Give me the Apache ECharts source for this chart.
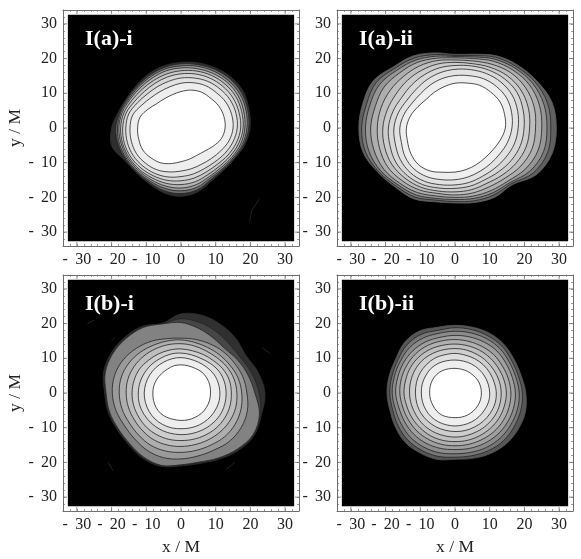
<!DOCTYPE html>
<html>
<head>
    <meta charset="utf-8">
    <title>ECharts</title>
    <script src="https://cdn.jsdelivr.net/npm/echarts@6/dist/echarts.min.js"></script>
    <style>body{margin:0;background:#fff}</style>
</head>
<body>
<div id="main" style="width:581px;height:559px;"></div>
<script>
    // contour radii in M, read every 15 deg from +x going anticlockwise; outermost ring first
    var angles = [0,15,30,45,60,75,90,105,120,135,150,165,180,195,210,225,240,255,270,285,300,315,330,345];
    var tickValues = [-30,-20,-10,0,10,20,30];

    var ringsAi = [
        [19.9,20.3,20.8,20.6,20,19.4,18.9,18.6,18.2,17.8,17.8,18.6,20,20.6,18.7,18.2,18.5,19.3,19.7,19,17.6,17.3,17.8,19],
        [19.5,19.9,20.2,20,19.5,18.9,18.5,18.1,17.7,17.4,17.6,18.2,18.8,18.7,18.3,18,18.1,18.7,18.9,18.4,17.2,17,17.6,18.7],
        [19,19.4,19.6,19.3,18.9,18.4,17.9,17.6,17.2,17,17.2,17.9,18.3,18.3,18,17.7,17.7,18,18.1,17.7,16.7,16.7,17.3,18.3],
        [18.4,18.7,18.9,18.7,18.2,17.7,17.3,17,16.6,16.5,16.8,17.5,17.9,17.8,17.6,17.3,17.2,17.3,17.3,16.9,16.2,16.2,16.9,17.8],
        [17.9,18.1,18.2,17.9,17.5,17,16.5,16.1,15.8,15.8,16.2,17,17.4,17.4,17.2,16.9,16.6,16.5,16.3,16,15.5,15.6,16.3,17.2],
        [17.2,17.3,17.3,17,16.6,16.1,15.6,15.2,14.9,14.9,15.4,16.4,16.8,16.9,16.7,16.3,15.9,15.6,15.2,14.9,14.6,14.8,15.6,16.5],
        [16.2,16.4,16.3,15.9,15.5,14.9,14.4,13.9,13.7,13.8,14.5,15.6,15.9,16,15.9,15.5,15.1,14.6,14,13.7,13.5,13.8,14.6,15.5],
        [15,15.1,14.9,14.4,14.1,13.5,12.9,12.3,12.1,12.3,13.1,14.4,14.7,14.8,14.8,14.4,13.9,13.1,12.4,12.1,12,12.4,13.2,14.3],
        [12.7,12.8,12.6,12.1,11.9,11.3,10.5,9.9,9.7,9.9,10.9,12.2,12.5,12.6,12.7,12.2,11.6,10.6,9.7,9.3,9.1,9.5,10.6,12]
    ];
    var shadesAi = ['#2e2e2e','#6e6e6e','#989898','#b4b4b4','#c8c8c8','#d6d6d6','#e2e2e2','#eeeeee','#ffffff'];

    var ringsAii = [
        [29.2,28.9,27.2,25.6,24,22,21.2,22.4,24,25,27.2,27.5,27.7,27.4,25.6,24.2,23.6,22,21.6,22.2,23,23.2,27,28.9],
        [27.6,27.6,26.6,25,23.5,21.6,20.9,21.9,23.3,24.4,26.2,26.4,26.9,26.7,25.3,23.8,23,21.5,21.2,21.7,22.3,22.8,26,27.6],
        [26.5,26.5,25.8,24.4,22.9,21.2,20.6,21.4,22.6,23.6,25.1,25.4,25.8,25.7,24.7,23.2,22.3,21,20.6,21,21.6,22.3,24.9,26.4],
        [25,25.2,24.8,23.6,22.2,20.7,20.2,20.8,21.8,22.5,23.6,23.8,24.3,24.2,23.7,22.5,21.5,20.3,20,20.3,20.8,21.6,23.5,24.8],
        [23.2,23.6,23.4,22.6,21.2,20,19.6,20.1,20.6,21,21.6,22.1,22.4,22.5,22.4,21.5,20.6,19.5,19.3,19.4,19.6,20.4,21.9,23],
        [21.5,21.9,21.9,21.3,20.2,19.2,18.9,19.1,19.2,19.4,19.6,20.2,20.8,21,21,20.4,19.7,18.8,18.4,18.4,18.4,19.2,20.3,21.2],
        [19.9,20.3,20.6,20.1,19.3,18.5,18,17.9,17.7,17.6,17.7,18.5,19.2,19.4,19.7,19.4,18.8,17.9,17.4,17.3,17.2,17.8,18.7,19.5],
        [18.2,18.7,19,18.7,18.1,17.4,16.9,16.5,16.1,15.8,16,16.9,17.6,17.8,18.2,18.2,17.7,16.9,16.4,16.2,16,16.3,16.9,17.7],
        [16.4,16.9,17.2,16.9,16.4,15.6,15.1,14.7,14.3,14,14.3,15.2,15.9,16,16.6,16.7,16.2,15.4,14.9,14.6,14.4,14.5,14.9,15.7],
        [14.5,14.8,15,14.6,14.2,13.4,12.9,12.3,11.9,11.7,12.3,13.3,14,14.2,14.7,14.9,14.3,13.2,12.7,12.4,12.2,12.2,12.6,13.5]
    ];
    var shadesAii = ['#606060','#7a7a7a','#969696','#aeaeae','#bebebe','#cccccc','#d8d8d8','#e2e2e2','#eeeeee','#ffffff'];

    var ringsBi = [
        [24.2,23,21.6,22.3,22.8,23.2,22.8,20.8,22.2,22.8,23.2,23.1,22,21.7,21.2,21.2,21.8,21.9,21,21,22,23.4,24.4,24],
        [22.5,21.2,20,19.8,20.4,21,21.4,20.7,22,22.5,22.9,22.8,21.8,21.5,21,21,21.6,21.7,20.8,20.8,21.8,23.1,24.2,23.7],
        [21.3,20,18.9,18,18.4,19.3,20.3,20.6,21.8,22.3,22.7,22.6,21.6,21.3,20.8,20.8,21.4,21.6,20.7,20.6,21.6,22.9,24,23.4],
        [19,18.4,17.6,17,16.4,16,15.8,16.2,17.2,18.2,19.2,19.8,19.8,19.4,18.8,18.8,19.2,19.3,19,18.8,19,19.7,20,19.8],
        [17.5,17,16.2,15.6,15.2,15.1,15.3,15.5,15.9,16.6,17.3,17.8,17.8,17.6,17.2,17.2,17.4,17.3,17.1,17.1,17.3,17.8,18,17.9],
        [16.1,15.8,15.2,14.5,14.1,14.1,14.2,14.4,14.7,15.1,15.5,15.8,15.8,15.7,15.5,15.5,15.6,15.5,15.4,15.4,15.6,15.9,16.2,16.3],
        [14.5,14.4,13.9,13.2,12.8,12.6,12.7,12.8,13,13.3,13.8,14,14.1,14.1,14,14,13.9,13.8,13.7,13.8,14,14.3,14.5,14.6],
        [13,12.9,12.6,12,11.5,11.4,11.5,11.6,11.6,11.8,12,12.2,12.3,12.4,12.3,12.2,12.1,12,12,12.1,12.3,12.6,12.9,13],
        [11.2,11.1,10.9,10.5,10.2,10.1,10.2,10.2,10.2,10.3,10.4,10.5,10.6,10.6,10.6,10.6,10.5,10.4,10.3,10.4,10.6,10.8,11,11.2],
        [8.5,8.6,8.6,8.5,8.2,8.1,8.1,8.1,7.9,7.9,8,8.1,8.1,8.2,8.3,8.3,8.1,7.9,7.9,8,8.1,8.3,8.4,8.5]
    ];
    var shadesBi = ['#303030','#464646','#828282','#9a9a9a','#aeaeae','#bebebe','#cecece','#dedede','#eeeeee','#ffffff'];

    var ringsBii = [
        [20.4,19.7,19.6,19.9,19.9,19.6,19.5,19.6,20.6,20.6,19.7,19.6,19.6,19.4,19.8,20.2,20,19.8,19.1,19.5,20.2,20.8,21,21],
        [19.4,18.9,18.8,19.1,19,18.9,18.8,18.7,19.5,19.6,19,18.8,18.8,18.6,18.9,19.2,19.1,18.9,18.5,18.7,19.2,19.6,19.6,19.6],
        [18.5,18.1,18,18.2,18.1,17.9,17.8,17.8,18.3,18.5,18.2,18.1,18.1,17.8,17.9,18.1,18,17.8,17.5,17.7,18.1,18.4,18.5,18.6],
        [17.4,17.1,17,17.1,16.9,16.7,16.6,16.6,17,17.2,17.2,17.1,17.1,16.7,16.7,16.8,16.7,16.5,16.3,16.5,16.8,17.1,17.3,17.4],
        [16.1,15.9,15.7,15.7,15.5,15.4,15.4,15.5,15.8,16,16,16,15.9,15.6,15.5,15.5,15.4,15.3,15.2,15.3,15.5,15.8,16,16.1],
        [14.8,14.6,14.4,14.3,14.2,14.1,14.1,14.2,14.5,14.7,14.8,14.7,14.7,14.4,14.3,14.2,14.2,14.1,14,14.1,14.2,14.4,14.6,14.7],
        [13.3,13.2,13,12.9,12.8,12.8,12.8,12.9,13.1,13.3,13.3,13.2,13.1,13,12.9,12.9,12.8,12.7,12.7,12.7,12.8,13,13.2,13.3],
        [11.9,11.7,11.6,11.5,11.4,11.3,11.4,11.4,11.6,11.6,11.6,11.5,11.4,11.4,11.4,11.3,11.2,11.1,11.1,11.2,11.3,11.5,11.7,11.9],
        [10,9.9,9.8,9.7,9.6,9.5,9.5,9.6,9.8,9.9,9.8,9.8,9.7,9.7,9.7,9.7,9.6,9.5,9.5,9.5,9.6,9.7,9.8,10],
        [7.6,7.6,7.5,7.3,7.2,7.1,7.1,7.2,7.4,7.5,7.5,7.4,7.3,7.3,7.3,7.4,7.4,7.2,7.1,7.2,7.3,7.4,7.5,7.6]
    ];
    var shadesBii = ['#565656','#767676','#8c8c8c','#a0a0a0','#b0b0b0','#c0c0c0','#cecece','#dedede','#eeeeee','#ffffff'];

    // faint streaks outside the blobs, x/y in M
    var specksAi = [[[19.8,-27],[20.3,-24],[22.5,-20.5]]];
    var specksBi = [[[-27,20],[-25,21]],[[-21,-20],[-19.5,-22.5]],[[13,-22],[15.5,-20]],[[23.5,13],[25.5,11.5]],[[-20,15],[-19,16]]];

    var panels = [
        {label:'I(a)-i', rings:ringsAi, shades:shadesAi, specks:specksAi, left:63, top:10},
        {label:'I(a)-ii', rings:ringsAii, shades:shadesAii, specks:[], left:337, top:10},
        {label:'I(b)-i', rings:ringsBi, shades:shadesBi, specks:specksBi, left:63, top:275},
        {label:'I(b)-ii', rings:ringsBii, shades:shadesBii, specks:[], left:337, top:275}
    ];

    var serif = '"Liberation Serif"';
    var frameColor = '#6e6e6e';
    var axisMax = 34, imageEdge = 32.6;

    function tickText(v) {
        if (v % 10 !== 0) return '';
        return v < 0 ? '-\u00a0\u2009' + (-v) : '' + v;
    }

    function makeAxis(type, pos, grid, withLabel, name) {
        var a = {
            type: 'value', gridIndex: grid, position: pos,
            min: -axisMax, max: axisMax, interval: 2,
            splitLine: {show: false},
            axisLine: {show: true, onZero: false, lineStyle: {color: frameColor, width: 1}},
            axisTick: {show: true, inside: true, length: 2, lineStyle: {color: frameColor, width: 0.7}},
            axisLabel: {show: withLabel, interval: 0, formatter: tickText, margin: 6, hideOverlap: false,
                fontFamily: serif, fontSize: 16, color: '#222'}
        };
        if (name) {
            a.name = name;
            a.nameLocation = 'middle';
            a.nameGap = type === 'x' ? 27 : 37;
            a.nameTextStyle = {fontFamily: serif, fontSize: 17.5, color: '#222'};
        }
        return a;
    }

    var grids = [], xAxes = [], yAxes = [], series = [], titles = [];
    panels.forEach(function (p, i) {
        grids.push({left: p.left, top: p.top, width: 236, height: 236});
        // bottom + top, left + right so the frame closes with ticks on all four sides
        xAxes.push(makeAxis('x', 'bottom', i, true, i >= 2 ? 'x / M' : null));
        xAxes.push(makeAxis('x', 'top', i, false));
        yAxes.push(makeAxis('y', 'left', i, true, i % 2 === 0 ? 'y / M' : null));
        yAxes.push(makeAxis('y', 'right', i, false));
        var xi = i * 2, yi = i * 2;

        series.push({
            type: 'custom', coordinateSystem: 'cartesian2d', xAxisIndex: xi, yAxisIndex: yi,
            silent: true, clip: false, data: [0],
            renderItem: function (params, api) {
                var a = api.coord([-imageEdge, imageEdge]), b = api.coord([imageEdge, -imageEdge]);
                return {type: 'rect', shape: {x: a[0], y: a[1], width: b[0] - a[0], height: b[1] - a[1]}, style: {fill: '#000'}};
            }
        });
        series.push({
            type: 'custom', coordinateSystem: 'cartesian2d', xAxisIndex: xi, yAxisIndex: yi,
            silent: true, clip: false, data: p.specks.map(function (s, k) { return k; }),
            renderItem: function (params, api) {
                var pts = p.specks[params.dataIndex].map(function (q) { return api.coord(q); });
                return {type: 'polyline', shape: {points: pts}, style: {fill: null, stroke: '#222', lineWidth: 1}};
            }
        });
        series.push({
            type: 'custom', coordinateSystem: 'cartesian2d', xAxisIndex: xi, yAxisIndex: yi,
            silent: true, clip: false, data: p.rings.map(function (r, k) { return k; }),
            renderItem: function (params, api) {
                var k = params.dataIndex;
                var pts = p.rings[k].map(function (r, j) {
                    var t = angles[j] * Math.PI / 180;
                    return api.coord([r * Math.cos(t), r * Math.sin(t)]);
                });
                return {
                    type: 'polygon',
                    shape: {points: pts, smooth: 0.35},
                    style: {fill: p.shades[k], stroke: k === 0 ? p.shades[0] : '#222222', lineWidth: 0.8}
                };
            }
        });
        // longer ticks at the labelled values
        var majorTicks = [];
        tickValues.forEach(function (v) {
            majorTicks.push([v, 0], [v, 1], [v, 2], [v, 3]);
        });
        series.push({
            type: 'custom', coordinateSystem: 'cartesian2d', xAxisIndex: xi, yAxisIndex: yi,
            silent: true, clip: false, data: majorTicks,
            renderItem: function (params, api) {
                var v = api.value(0), side = api.value(1), c, d = [0, 0];
                if (side === 0) { c = api.coord([v, -axisMax]); d = [0, -4]; }
                if (side === 1) { c = api.coord([v, axisMax]); d = [0, 4]; }
                if (side === 2) { c = api.coord([-axisMax, v]); d = [4, 0]; }
                if (side === 3) { c = api.coord([axisMax, v]); d = [-4, 0]; }
                return {
                    type: 'line',
                    shape: {x1: c[0], y1: c[1], x2: c[0] + d[0], y2: c[1] + d[1]},
                    style: {stroke: frameColor, lineWidth: 0.8}
                };
            }
        });
        titles.push({
            text: p.label, left: p.left + 17, top: p.top + 13,
            textStyle: {fontFamily: serif, fontWeight: 'bold', fontSize: 22, color: '#fff'}
        });
    });

    var myChart = echarts.init(document.getElementById('main'));
    myChart.setOption({
        animation: false,
        backgroundColor: '#fff',
        title: titles,
        grid: grids,
        xAxis: xAxes,
        yAxis: yAxes,
        series: series
    });
</script>
</body>
</html>
